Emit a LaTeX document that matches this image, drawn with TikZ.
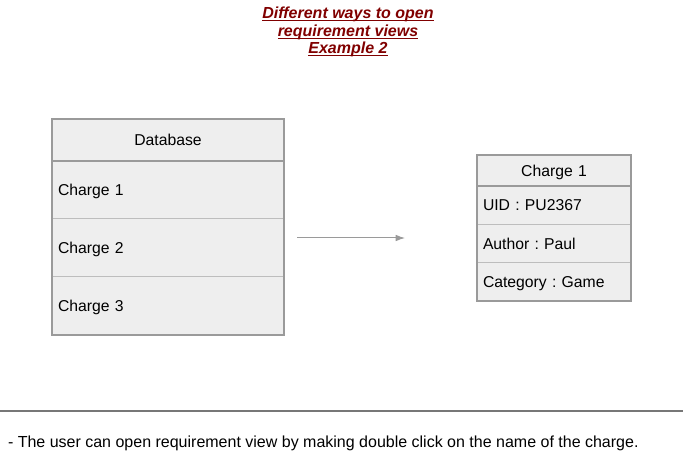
\documentclass[tikz,border=0pt]{standalone}
\usepackage{fontspec}
\setmainfont{Liberation Sans}
\usetikzlibrary{arrows.meta}
\definecolor{boxfill}{HTML}{EEEEEE}
\definecolor{boxline}{HTML}{9A9A9A}
\definecolor{rowline}{HTML}{BDBDBD}
\definecolor{titlered}{HTML}{800000}
\definecolor{ruleline}{HTML}{777777}
\frenchspacing
\newcommand{\ulbar}[1]{\setbox0\hbox{#1}\rlap{\rule[-2pt]{\wd0}{0.8pt}}\box0}

\begin{document}
\begin{tikzpicture}[
    x=0.75pt,
    y=-0.75pt,
    every node/.style={font=\fontsize{11.8}{14}\selectfont, inner sep=0pt, outer sep=0pt},
    dbrow/.style={draw=rowline, line width=0.75pt, fill=boxfill, anchor=north west,
      minimum width=174pt, minimum height=43.5pt, text width=165pt, align=left,
      text depth=0pt},
    dbhead/.style={dbrow, minimum height=31.5pt, align=center},
    attrrow/.style={draw=rowline, line width=0.75pt, fill=boxfill, anchor=north west,
      minimum width=115.5pt, minimum height=28.8pt, text width=106.5pt, align=left,
      text depth=0pt},
    attrhead/.style={attrrow, minimum height=23.25pt, align=center},
    frame/.style={draw=boxline, line width=1.5pt},
    link/.style={draw=boxline, line width=0.75pt, -{Latex[length=7pt, width=5pt]}}
  ]
    \useasboundingbox (0,0) rectangle (683,456);

    % title
    \node[align=center, text=titlered, font=\fontsize{12}{13.2}\selectfont\bfseries\itshape]
      (title) at (348,32) {\ulbar{Different ways to open}\\
        \ulbar{requirement views}\\ \ulbar{Example 2}};

    % database box
    \node[dbhead] (dbhead) at (52,119) {Database};
    \node[dbrow] (db1) at (dbhead.south west) {Charge 1};
    \node[dbrow] (db2) at (db1.south west) {Charge 2};
    \node[dbrow] (db3) at (db2.south west) {Charge 3};
    \draw[frame] (dbhead.north west) rectangle (db3.south east);
    \draw[frame] (dbhead.south west) -- (dbhead.south east);

    % charge box
    \node[attrhead] (chhead) at (477,155) {Charge 1};
    \node[attrrow] (uid) at (chhead.south west) {UID : PU2367};
    \node[attrrow] (author) at (uid.south west) {Author : Paul};
    \node[attrrow] (category) at (author.south west) {Category : Game};
    \draw[frame] (chhead.north west) rectangle (category.south east);
    \draw[frame] (chhead.south west) -- (chhead.south east);

    % arrow
    \coordinate (from) at (297,238);
    \coordinate (to) at (405,238);
    \draw[link] (from) -- (to);

    % note
    \coordinate (ruleL) at (0,411);
    \coordinate (ruleR) at (683,411);
    \draw[draw=ruleline, line width=1pt] (ruleL) -- (ruleR);
    \node[anchor=base west, font=\fontsize{12}{14}\selectfont] (note) at (8,447)
      {- The user can open requirement view by making double click on the name of the charge.};
\end{tikzpicture}
\end{document}
